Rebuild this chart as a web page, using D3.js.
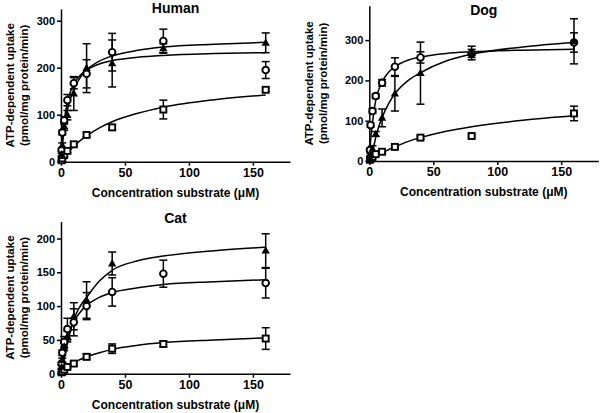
<!DOCTYPE html>
<html>
<head>
<meta charset="utf-8">
<script src="https://cdn.jsdelivr.net/npm/d3@7"></script>
<style>
  body { margin: 0; background: #fff; }
  svg { font-family: "Liberation Sans", Arial, sans-serif; font-weight: bold; }
</style>
</head>
<body>
<svg id="chart" width="600" height="413"></svg>
<script>
// concentrations (uM) and the x positions where the fitted curves were read
var conc = [0.5, 1, 2.5, 5, 10, 20, 40, 80, 160];
var fitX = [0, 0.5, 1, 2.5, 5, 7.5, 10, 15, 20, 30, 40, 60, 80, 120, 160];

// Human
var humanCircle = [25, 62, 88, 131, 167, 187, 233, 257, 195];
var humanCircleErr = [3, 5, 8, 12, 12, 30, 40, 25, 18];
var humanTriangle = [15, 35, 75, 99, 145, 199, 209, 241, 253];
var humanTriangleErr = [3, 5, 8, 10, 36, 52, 50, 10, 21];
var humanSquare = [3, 7, 14, 23, 37, 57, 73, 111, 153];
var humanSquareErr = [1, 2, 3, 4, 4, 4, 6, 20, 4];
var humanCircleFit = [0, 24, 44, 86, 126, 150, 165, 184, 195, 208, 215, 222, 226, 230, 232];
var humanTriangleFit = [0, 17, 32, 68, 109, 135, 154, 179, 195, 214, 225, 237, 244, 250, 254];
var humanSquareFit = [0, 2, 4, 9, 18, 26, 33, 45, 55, 72, 85, 103, 116, 132, 142];

// Dog
var dogCircle = [27, 89, 124, 161, 194, 234, 257, 267, 294];
var dogCircleErr = [4, 5, 6, 6, 8, 22, 14, 10, 24];
var dogTriangle = [8, 15, 30, 67, 107, 167, 218, 268, 297];
var dogTriangleErr = [2, 3, 8, 6, 22, 43, 77, 17, 56];
var dogSquare = [3, 6, 10, 17, 23, 35, 58, 62, 118];
var dogSquareErr = [1, 1, 2, 2, 3, 3, 4, 4, 18];
var dogCircleFit = [0, 27, 50, 95, 150, 178, 196, 220, 234, 250, 258, 267, 271, 275, 277];
var dogTriangleFit = [0, 2, 6, 22, 58, 86, 108, 142, 167, 199, 219, 248, 265, 283, 294];
var dogSquareFit = [0, 1, 2, 5.5, 10.5, 15, 20, 28, 35, 48, 58, 74, 85, 101, 112];

// Cat
var catCircle = [15, 31, 47, 66, 76, 100, 121, 148, 134];
var catCircleErr = [2, 4, 8, 16, 20, 20, 21, 20, 22];
var catTriangle = [10, 20, 40, 55, 85, 109, 163, null, 182];
var catTriangleErr = [2, 3, 6, 8, 20, 27, 17, null, 25];
var catSquare = [2, 3, 6, 10, 15, 25, 37, 44, 52];
var catSquareErr = [1, 1, 1, 2, 3, 4, 7, 4, 16];
var catCircleFit = [0, 8, 15, 32, 52, 66, 77, 91, 101, 113, 120, 127, 132, 136, 139];
var catTriangleFit = [0, 4, 8, 22, 45, 64, 80, 100, 113, 137, 153, 167, 174, 182, 187];
var catSquareFit = [0, 1, 2, 5, 9, 12, 16, 21, 25, 31, 36, 42, 46, 50, 53];

var xTicks = [0, 50, 100, 150];

var svg = d3.select("#chart");

function panel(opts)
{
    var x = d3.scaleLinear().domain([0, 179]).range([opts.left, opts.left + 229]);
    var y = d3.scaleLinear().domain([0, opts.ymax]).range([opts.bottom, opts.bottom - opts.ymax * opts.ppu]);
    var g = svg.append("g");

    // axes
    var xa = g.append("g")
        .attr("transform", "translate(0," + opts.bottom + ")")
        .call(d3.axisBottom(x).tickValues(xTicks).tickSize(4).tickSizeOuter(0).tickPadding(2));
    var ya = g.append("g")
        .attr("transform", "translate(" + opts.left + ",0)")
        .call(d3.axisLeft(y).tickValues(opts.yTicks).tickSize(4).tickSizeOuter(0).tickPadding(2));
    g.selectAll(".domain, .tick line").attr("stroke", "#000").attr("stroke-width", 1.5);
    xa.selectAll("text").attr("font-size", 12.5).attr("font-weight", "bold").attr("fill", "#000");
    ya.selectAll("text").attr("font-size", 11).attr("font-weight", "bold").attr("fill", "#000");

    // titles
    var cx = (x.range()[0] + x.range()[1]) / 2;
    g.append("text").attr("x", cx).attr("y", opts.titleY)
        .attr("text-anchor", "middle").attr("font-size", 14).text(opts.title);
    g.append("text").attr("x", cx).attr("y", opts.bottom + 35)
        .attr("text-anchor", "middle").attr("font-size", 12).text("Concentration substrate (\u03bcM)");
    var cy = (y.range()[0] + y.range()[1]) / 2;
    var yl = g.append("text").attr("transform", "translate(" + opts.labelX + "," + cy + ") rotate(-90)")
        .attr("text-anchor", "middle").attr("font-size", 11.5);
    yl.append("tspan").attr("x", 0).attr("dy", 0).text("ATP-dependent uptake");
    yl.append("tspan").attr("x", 0).attr("dy", 14).text("(pmol/mg protein/min)");

    // fitted curves
    var line = d3.line()
        .x(function(d, i) { return x(fitX[i]); })
        .y(function(d) { return y(d); })
        .curve(d3.curveMonotoneX);
    opts.fits.forEach(function(f) {
        g.append("path").attr("d", line(f)).attr("fill", "none")
            .attr("stroke", "#000").attr("stroke-width", 1.5);
    });

    // error bars, then markers
    opts.series.forEach(function(s) {
        conc.forEach(function(c, i) {
            var v = s.vals[i], e = s.err[i];
            if (v == null) return;
            var px = x(c);
            g.append("line").attr("x1", px).attr("x2", px).attr("y1", y(v - e)).attr("y2", y(v + e))
                .attr("stroke", "#000").attr("stroke-width", 1.5);
            [v - e, v + e].forEach(function(w) {
                g.append("line").attr("x1", px - 4).attr("x2", px + 4).attr("y1", y(w)).attr("y2", y(w))
                    .attr("stroke", "#000").attr("stroke-width", 1.5);
            });
        });
    });
    opts.series.forEach(function(s) {
        conc.forEach(function(c, i) {
            var v = s.vals[i];
            if (v == null) return;
            var px = x(c), py = y(v);
            if (s.shape == "circle") {
                g.append("circle").attr("cx", px).attr("cy", py).attr("r", 3.3)
                    .attr("fill", "#fff").attr("stroke", "#000").attr("stroke-width", 1.9);
            } else if (s.shape == "square") {
                g.append("rect").attr("x", px - 3).attr("y", py - 3).attr("width", 6).attr("height", 6)
                    .attr("fill", "#fff").attr("stroke", "#000").attr("stroke-width", 1.9);
            } else {
                g.append("path").attr("d", d3.symbol().type(d3.symbolTriangle).size(30)())
                    .attr("transform", "translate(" + px + "," + (py + 0.5) + ")")
                    .attr("fill", "#000");
            }
        });
    });
}

panel({
    title: "Human", left: 61, bottom: 161.7, ymax: 325, ppu: 0.47, yTicks: [0, 100, 200, 300],
    titleY: 13, labelX: 13.5,
    fits: [humanCircleFit, humanTriangleFit, humanSquareFit],
    series: [
        {shape: "circle", vals: humanCircle, err: humanCircleErr},
        {shape: "square", vals: humanSquare, err: humanSquareErr},
        {shape: "triangle", vals: humanTriangle, err: humanTriangleErr}
    ]
});

panel({
    title: "Dog", left: 369.3, bottom: 161, ymax: 385, ppu: 0.403, yTicks: [0, 100, 200, 300],
    titleY: 15, labelX: 313,
    fits: [dogCircleFit, dogTriangleFit, dogSquareFit],
    series: [
        {shape: "circle", vals: dogCircle, err: dogCircleErr},
        {shape: "square", vals: dogSquare, err: dogSquareErr},
        {shape: "triangle", vals: dogTriangle, err: dogTriangleErr}
    ]
});

panel({
    title: "Cat", left: 61, bottom: 373.7, ymax: 225, ppu: 0.676, yTicks: [0, 50, 100, 150, 200],
    titleY: 223, labelX: 13.5,
    fits: [catCircleFit, catTriangleFit, catSquareFit],
    series: [
        {shape: "circle", vals: catCircle, err: catCircleErr},
        {shape: "square", vals: catSquare, err: catSquareErr},
        {shape: "triangle", vals: catTriangle, err: catTriangleErr}
    ]
});
</script>
</body>
</html>
